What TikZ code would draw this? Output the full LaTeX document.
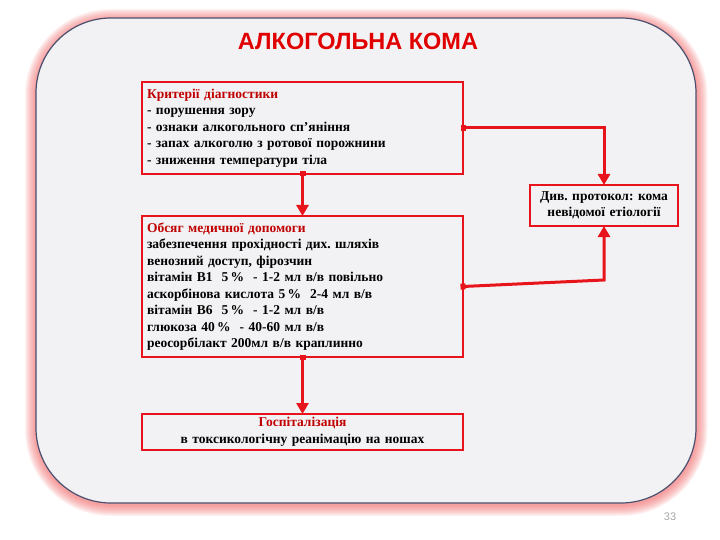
\documentclass[tikz,border=0pt]{standalone}
\usepackage{fontspec}
\setmainfont{Liberation Serif}
\newfontfamily\titlefont{Liberation Sans}
\usetikzlibrary{arrows.meta}
\definecolor{frameblue}{HTML}{4B4F6E}
\definecolor{panel}{HTML}{F2F2F4}
\definecolor{linered}{HTML}{E8141B}
\definecolor{headred}{HTML}{C00000}
\definecolor{titlered}{HTML}{E00000}
\definecolor{glowred}{HTML}{F06060}
\frenchspacing

\begin{document}
\begin{tikzpicture}[x=1pt,y=-1pt,
        block/.style={draw=linered,line width=2.5pt,fill=panel,inner sep=5pt,outer sep=0pt,
            font=\fontsize{13.5}{16.5}\selectfont\bfseries},
        link/.style={linered,line width=3pt,line join=miter,shorten <=-2.5pt,
            {Square[length=5pt,width=6pt]}-{Triangle[length=11pt,width=12pt]}}]
                \useasboundingbox (0,0) rectangle (720,540);
                % glow and frame
                \foreach \w in {22,20,...,2}
                \draw[glowred,line width=\w pt,opacity=.08,rounded corners=75pt] (36,20) rectangle (696.5,505);
                \draw[frameblue,line width=1.2pt,fill=panel,rounded corners=75pt] (36,18) rectangle (696,503);
                \node at(358,41)(title){\titlefont\fontsize{23.5}{27}\selectfont\bfseries\textcolor{titlered}{АЛКОГОЛЬНА КОМА}};
                % blocks
                \node at(302.5,128)[block,text width=311pt,align=left,minimum height=92pt](krit){\textcolor{headred}{Критерії діагностики}\\
                    - порушення зору\\
                    - ознаки алкогольного сп’яніння\\
                    - запах алкоголю з ротової порожнини\\
                    - зниження температури тіла};
                \node at(302.5,286.5)[block,text width=311pt,align=left,minimum height=141pt](obsyag){\textcolor{headred}{Обсяг медичної допомоги}\\
                    забезпечення прохідності дих. шляхів\\
                    венозний доступ, фірозчин\\
                    вітамін В1~ 5\,\% ~- 1-2 мл в/в повільно\\
                    аскорбінова кислота 5\,\% ~2-4 мл в/в\\
                    вітамін В6~ 5\,\% ~- 1-2 мл в/в\\
                    глюкоза 40\,\% ~- 40-60 мл в/в\\
                    реосорбілакт 200мл в/в краплинно};
                \node at(302.5,432)[block,text width=311pt,align=center,inner ysep=2pt,minimum height=36pt](hosp){\textcolor{headred}{Госпіталізація}\\
                    в токсикологічну реанімацію на ношах};
                \node at(604,205.5)[block,text width=138pt,align=center,inner ysep=2pt,minimum height=41pt](protokol){Див. протокол: кома\\
                    невідомої етіології};
                \node at(670,517)[text=gray!70,font=\titlefont\fontsize{11}{13}\selectfont](page){33};
                % connectors
                \coordinate (turn) at(604,280);
                \draw[link](krit.south)--(obsyag.north);
                \draw[link](obsyag.south)--(hosp.north);
                \draw[link](krit.east)-|(protokol.north);
                \draw[link](obsyag.east)--(turn)--(protokol.south);
            \end{tikzpicture}
\end{document}
